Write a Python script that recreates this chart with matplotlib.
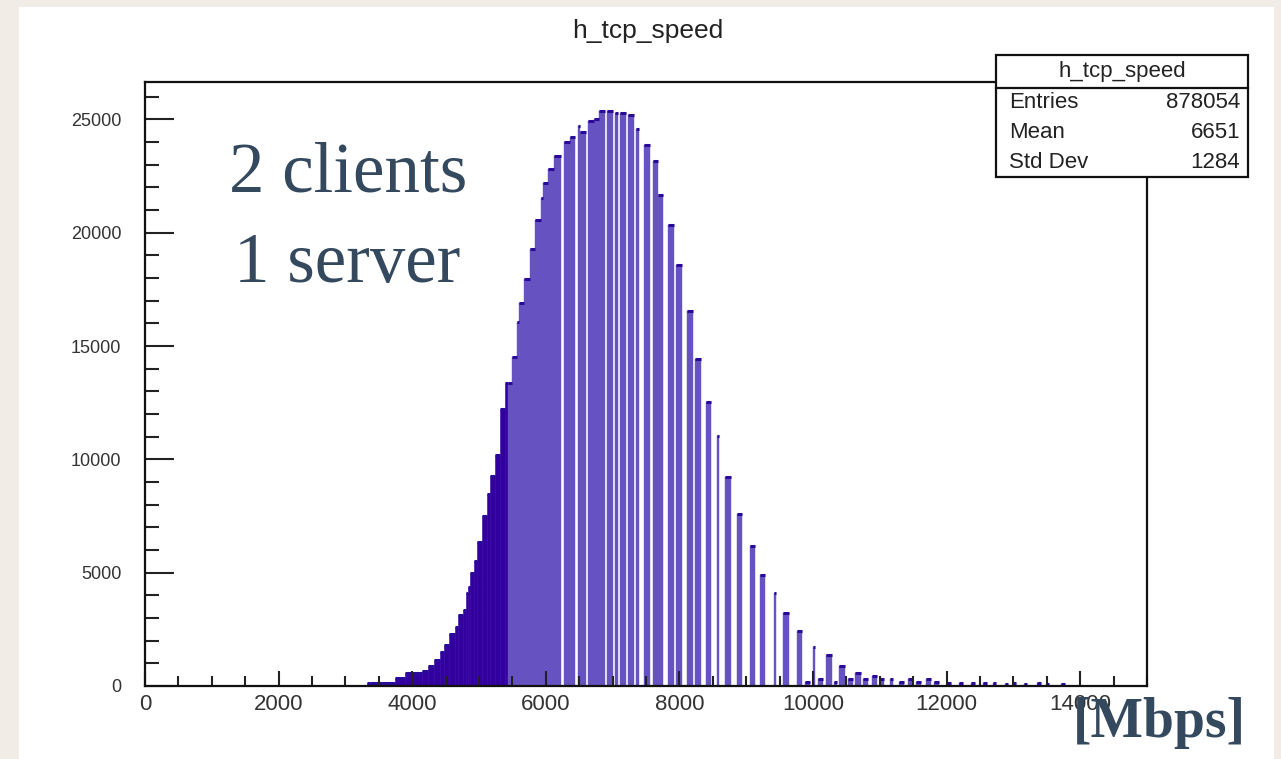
import matplotlib
matplotlib.use("Agg")
import matplotlib.pyplot as plt
from matplotlib.patches import Rectangle
from matplotlib.lines import Line2D
from matplotlib.ticker import MultipleLocator, FixedLocator
import numpy as np

# ---- histogram content: bin edges [Mbps] and entries per bin ----
bin_lo = [3320, 3370, 3745, 3895, 4150, 4240, 4330, 4420, 4480, 4555, 4645,
          4690, 4765, 4810, 4840, 4870, 4930, 4975, 5050, 5125, 5170, 5245,
          5320, 5395,
          5440, 5500, 5575, 5605, 5680, 5770, 5845, 5930, 5960, 6035, 6125,
          6275, 6365, 6485, 6515, 6635, 6725, 6800, 6920, 7040, 7115, 7235,
          7355, 7475, 7610, 7685, 7835, 7955, 8120, 8240, 8405, 8570, 8690,
          8855, 9050, 9200, 9410, 9555, 9765, 9885, 10005, 10080, 10200,
          10320, 10395, 10530, 10635, 10755, 10890, 11010, 11160, 11280,
          11415, 11535, 11685, 11805, 12010, 12190, 12370, 12540, 12690,
          12870, 12990, 13160, 13360, 13490, 13720]
bin_hi = [3370, 3745, 3895, 4150, 4240, 4330, 4420, 4480, 4555, 4645, 4690,
          4765, 4810, 4840, 4870, 4930, 4975, 5050, 5125, 5170, 5245, 5320,
          5395, 5440,
          5500, 5575, 5605, 5680, 5770, 5845, 5930, 5960, 6035, 6125, 6230,
          6365, 6440, 6515, 6605, 6725, 6800, 6890, 7010, 7085, 7205, 7325,
          7400, 7565, 7685, 7760, 7925, 8045, 8210, 8330, 8480, 8600, 8765,
          8930, 9125, 9275, 9440, 9645, 9840, 9960, 10035, 10155, 10290,
          10365, 10485, 10605, 10725, 10830, 10965, 11070, 11205, 11355,
          11490, 11610, 11760, 11880, 12060, 12240, 12420, 12600, 12740,
          12920, 13040, 13210, 13420, 13540, 13770]
counts = [150, 140, 350, 575, 665, 885, 1150, 1505, 1815, 2305, 2615,
          3145, 3370, 4120, 4385, 5005, 5495, 6335, 7485, 8460, 9260, 10190,
          12225, 13380,
          13380, 14530, 16080, 16920, 17940, 19270, 20555, 21530, 22195,
          22815, 23390, 24010, 24230, 24720, 24455, 24940, 25030, 25385,
          25385, 25295, 25295, 25205, 24585, 23880, 23170, 21665, 20335,
          18560, 16570, 14440, 12535, 11030, 9215, 7575, 6200, 4915, 4120,
          3235, 2435, 177, 1730, 310, 1375, 177, 885, 310, 575, 310, 445,
          310, 310, 177, 310, 177, 310, 177, 130, 130, 150, 120, 130, 90,
          140, 90, 120, 90, 70]

# ---- statistics panel ----
hist_name = "h_tcp_speed"
stat_names = ["Entries", "Mean", "Std Dev"]
stat_values = ["878054", "6651", "1284"]

# ---- axis ticks ----
x_ticks = [0, 2000, 4000, 6000, 8000, 10000, 12000, 14000]
y_ticks = [0, 5000, 10000, 15000, 20000, 25000]
x_range = (0, 15000)

W, H = 1281, 759
fig = plt.figure(figsize=(W / 100, H / 100), dpi=100)
fig.patch.set_facecolor("#f1ede6")


def fx(px):
    return px / W


def fy(py):
    return 1 - py / H


# white page behind the canvas
fig.add_artist(Rectangle((fx(19), 0), fx(1274) - fx(19), fy(7),
                         transform=fig.transFigure, facecolor="white",
                         edgecolor="none", zorder=-5))

ax = fig.add_axes([fx(145), fy(686), fx(1147) - fx(145), fy(82) - fy(686)])
ax.set_facecolor("white")

lo = np.array(bin_lo, dtype=float)
hi = np.array(bin_hi, dtype=float)
c = np.array(counts, dtype=float)

FILL = "#6652c0"
DARK = "#3300a0"
CAP = "#2a0a98"
DENSE_LIMIT = 5440  # narrow bins below this render as solid outline colour

dense = hi <= DENSE_LIMIT
ax.bar(lo[dense], c[dense], width=(hi - lo)[dense], align="edge",
       color=DARK, edgecolor=DARK, linewidth=0.4, zorder=1)
ax.bar(lo[~dense], c[~dense], width=(hi - lo)[~dense], align="edge",
       color=FILL, edgecolor=FILL, linewidth=0.3, zorder=1)
ax.hlines(c, lo, hi, color=CAP, linewidth=2.2, zorder=1.5)

ax.set_xlim(*x_range)
ax.set_ylim(0, 1.05 * c.max())

ax.xaxis.set_major_locator(FixedLocator(x_ticks))
ax.xaxis.set_minor_locator(MultipleLocator(500))
ax.yaxis.set_major_locator(FixedLocator(y_ticks))
ax.yaxis.set_minor_locator(MultipleLocator(1000))
ax.set_xticklabels([str(v) for v in x_ticks])
ax.set_yticklabels([str(v) for v in y_ticks])

ax.tick_params(axis="x", which="major", direction="in", length=11, width=1.5,
               color="#222222", pad=6, labelsize=16, labelcolor="#333333")
ax.tick_params(axis="x", which="minor", direction="in", length=7, width=1.5,
               color="#222222")
ax.tick_params(axis="y", which="major", direction="in", length=21, width=1.5,
               color="#222222", pad=17, labelsize=13, labelcolor="#333333")
ax.tick_params(axis="y", which="minor", direction="in", length=10, width=1.5,
               color="#222222")
ax.tick_params(top=False, right=False, which="both")
for lab in ax.get_xticklabels() + ax.get_yticklabels():
    lab.set_fontfamily("Liberation Sans")
for sp in ax.spines.values():
    sp.set_linewidth(1.6)
    sp.set_color("#111111")

# title
fig.text(fx(648), fy(38), hist_name, ha="center", va="baseline",
         fontsize=19, family="Liberation Sans", color="#222222")

# statistics box
bx0, bx1, by0, by1 = 996, 1248, 55, 177
fig.add_artist(Rectangle((fx(bx0), fy(by1)), fx(bx1) - fx(bx0), fy(by0) - fy(by1),
                         transform=fig.transFigure, facecolor="white",
                         edgecolor="#111111", linewidth=1.6, zorder=5))
fig.add_artist(Line2D([fx(bx0), fx(bx1)], [fy(88), fy(88)],
                      transform=fig.transFigure, color="#111111",
                      linewidth=1.6, zorder=6))
fig.text(fx((bx0 + bx1) / 2), fy(71), hist_name, ha="center", va="center",
         fontsize=16, family="Liberation Sans", color="#222222", zorder=7)
for i, (name, val) in enumerate(zip(stat_names, stat_values)):
    yy = fy(103 + 30 * i)
    fig.text(fx(1009), yy, name, ha="left", va="center", fontsize=16,
             family="Liberation Sans", color="#222222", zorder=7)
    fig.text(fx(1240), yy, val, ha="right", va="center", fontsize=16,
             family="Liberation Sans", color="#222222", zorder=7)

# annotations
NOTE = "#34495e"
fig.text(fx(229), fy(192), "2 clients", ha="left", va="baseline",
         fontsize=51, family="Liberation Serif", color=NOTE, zorder=8)
fig.text(fx(234), fy(282), "1 server", ha="left", va="baseline",
         fontsize=51, family="Liberation Serif", color=NOTE, zorder=8)
fig.text(fx(1246), fy(737), "[Mbps]", ha="right", va="baseline",
         fontsize=40, family="Liberation Serif", fontweight="bold",
         color=NOTE, zorder=8)

fig.savefig("out.png", dpi=100, facecolor=fig.get_facecolor())
